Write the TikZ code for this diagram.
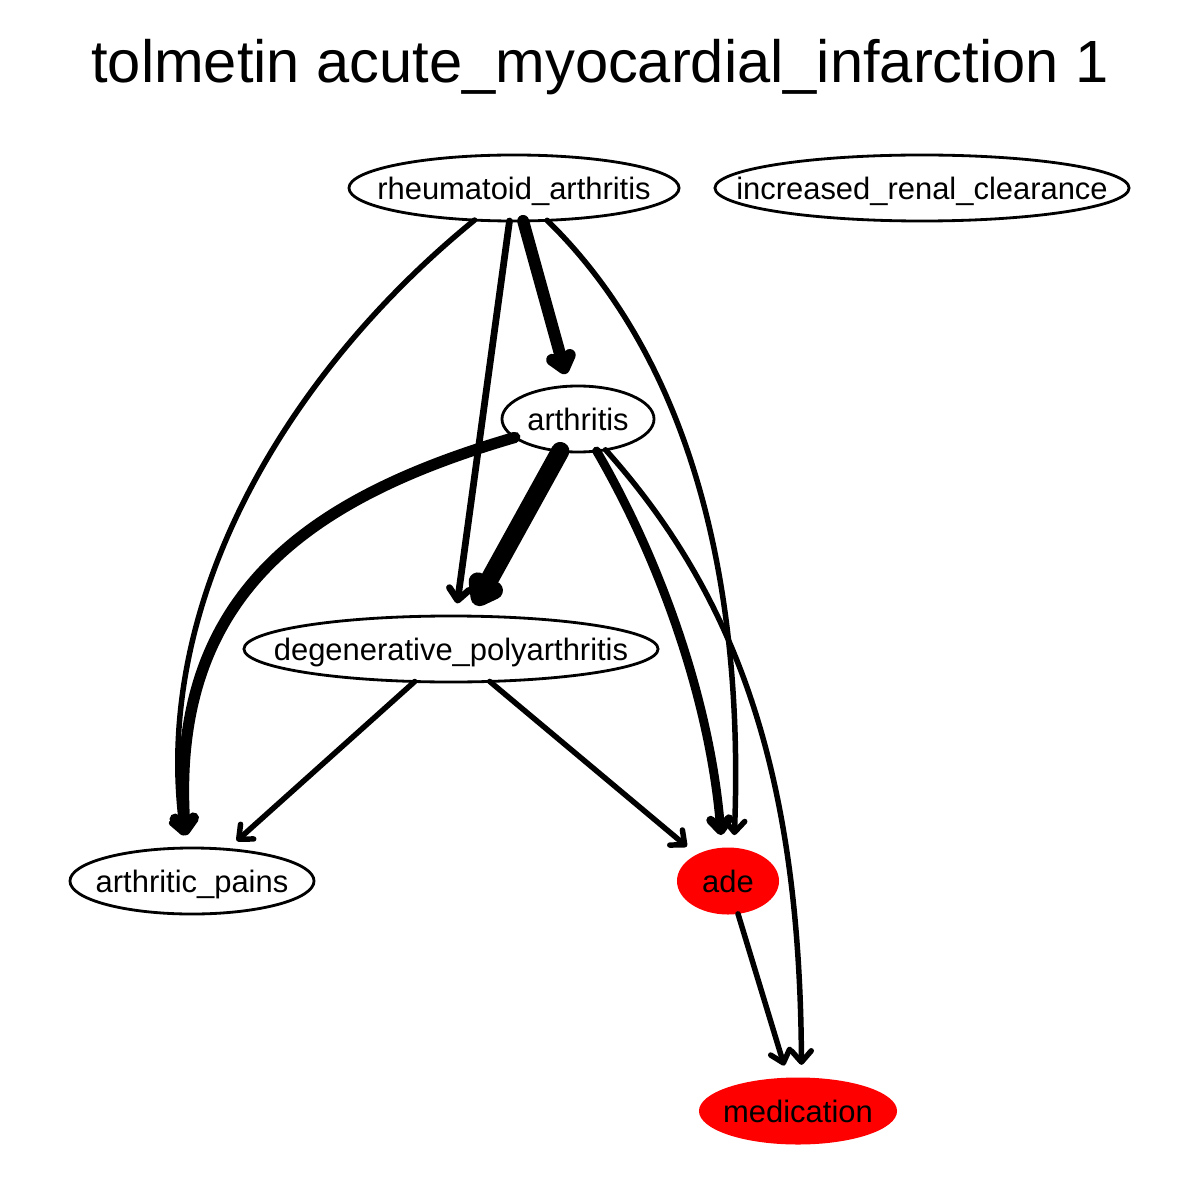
\documentclass[tikz,border=0pt]{standalone}
\usepackage{fontspec}
\setmainfont{Liberation Sans}
\usetikzlibrary{shapes.geometric,arrows.meta}
\begin{document}
\begin{tikzpicture}[x=0.025cm,y=-0.025cm,
  ell/.style={ellipse, draw=black, line width=2pt, minimum width=#1*0.05cm, minimum height=1.65cm, inner sep=0pt, outer sep=0pt},
  redell/.style={ellipse, fill=red, draw=none, minimum width=#1*0.05cm, minimum height=1.675cm, inner sep=0pt, outer sep=0pt},
  every label/.style={font=\fontsize{22}{26}\selectfont, text height=0.8em, text depth=0pt, inner sep=0pt, yshift=-4.3pt},
  edge/.style n args={3}{line width=#1, -{Straight Barb[round,length=#2,width=#3]}, shorten >=9pt, line cap=round},
]
\useasboundingbox (0,0) rectangle (1200,1200);
\node[font=\fontsize{42.4}{48}\selectfont, anchor=base, inner sep=0pt] (title) at (600,83) {tolmetin acute\_myocardial\_infarction 1};

\node[ell=165, label={center:rheumatoid\_arthritis}] (ra) at (514,188) {};
\node[ell=207, label={center:increased\_renal\_clearance}] (irc) at (922,188) {};
\node[ell=76, label={center:arthritis}] (ar) at (578,419) {};
\node[ell=207, label={center:degenerative\_polyarthritis}] (dp) at (451,649) {};
\node[ell=122, label={center:arthritic\_pains}] (ap) at (192,881) {};
\node[redell=51, label={center:ade}] (ade) at (728,881) {};
\node[redell=99, label={center:medication}] (med) at (798,1111) {};

\draw[edge={3.9pt}{8pt}{14pt}] (ra) .. controls (290,370) and (150,600) .. (ap.102);
\draw[edge={4.8pt}{8pt}{14pt}] (ra) -- (dp);
\draw[edge={8.5pt}{8pt}{13pt}] (ra) -- (ar);
\draw[edge={3.9pt}{8pt}{14pt}] (ra) .. controls (680,350) and (745,560) .. (ade.80);
\draw[edge={8pt}{8pt}{13pt}] (ar) .. controls (300,500) and (170,600) .. (ap.100);
\draw[edge={13pt}{9pt}{13pt}] (ar) -- (dp);
\draw[edge={6.3pt}{8pt}{13pt}] (ar) .. controls (660,560) and (710,700) .. (ade.100);
\draw[edge={3.9pt}{8pt}{14pt}] (ar) .. controls (740,600) and (800,780) .. (med.84);
\draw[edge={3.9pt}{8pt}{14pt}] (dp) -- (ap);
\draw[edge={3.9pt}{8pt}{14pt}] (dp) -- (ade);
\draw[edge={3.9pt}{8pt}{14pt}] (ade) -- (med);
\end{tikzpicture}
\end{document}
